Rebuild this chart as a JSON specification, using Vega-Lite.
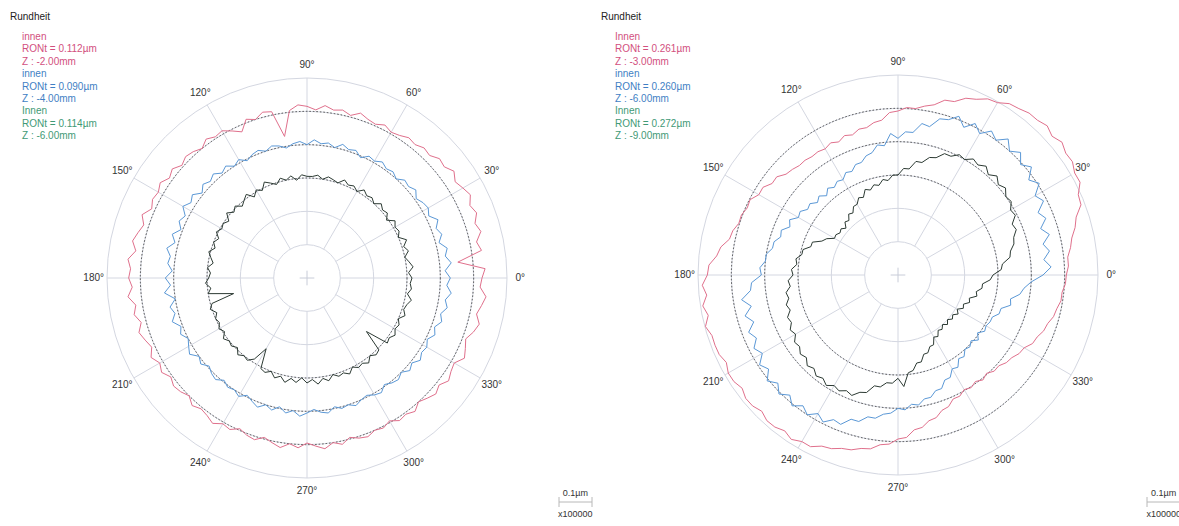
{
"$schema":"https://vega.github.io/schema/vega-lite/v6.json",
"padding":0,
"spacing":0,
"background":"white",
"config":{"view":{"stroke":null},"axis":{"disable":true},"legend":{"disable":true},"text":{"font":"Liberation Sans","fontSize":10}},
"resolve":{"scale":{"x":"independent","y":"independent"}},
"datasets":{
"rings":[{"r":1},{"r":2},{"r":3},{"r":4},{"r":5},{"r":6}],
"dots":[{"r":3},{"r":4},{"r":5}],
"spokes":[{"a":0},{"a":30},{"a":60},{"a":90},{"a":120},{"a":150},{"a":180},{"a":210},{"a":240},{"a":270},{"a":300},{"a":330}],
"cross":[{"x":-0.22,"y":0,"x2":0.22,"y2":0},{"x":0,"y":-0.22,"x2":0,"y2":0.22}],
"notes":[
{"p":"L","k":"leg","c":"K","x":-8.91,"y":7.83,"t":"Rundheit"},
{"p":"L","k":"leg","c":"T1","x":-8.55,"y":7.23,"t":"innen"},
{"p":"L","k":"leg","c":"T1","x":-8.55,"y":6.86,"t":"RONt = 0.112µm"},
{"p":"L","k":"leg","c":"T1","x":-8.55,"y":6.48,"t":"Z : -2.00mm"},
{"p":"L","k":"leg","c":"T2","x":-8.55,"y":6.12,"t":"innen"},
{"p":"L","k":"leg","c":"T2","x":-8.55,"y":5.73,"t":"RONt = 0.090µm"},
{"p":"L","k":"leg","c":"T2","x":-8.55,"y":5.37,"t":"Z : -4.00mm"},
{"p":"L","k":"leg","c":"T3","x":-8.55,"y":5.01,"t":"Innen"},
{"p":"L","k":"leg","c":"T3","x":-8.55,"y":4.62,"t":"RONt = 0.114µm"},
{"p":"L","k":"leg","c":"T3","x":-8.55,"y":4.26,"t":"Z : -6.00mm"},
{"p":"L","k":"bar","c":"K","x":8.05,"y":-6.45,"t":"0.1µm"},
{"p":"L","k":"bar","c":"K","x":8.05,"y":-7.08,"t":"x100000"},
{"p":"R","k":"leg","c":"K","x":-8.91,"y":7.74,"t":"Rundheit"},
{"p":"R","k":"leg","c":"T1","x":-8.49,"y":7.14,"t":"Innen"},
{"p":"R","k":"leg","c":"T1","x":-8.49,"y":6.77,"t":"RONt = 0.261µm"},
{"p":"R","k":"leg","c":"T1","x":-8.49,"y":6.39,"t":"Z : -3.00mm"},
{"p":"R","k":"leg","c":"T2","x":-8.49,"y":6.03,"t":"innen"},
{"p":"R","k":"leg","c":"T2","x":-8.49,"y":5.64,"t":"RONt = 0.260µm"},
{"p":"R","k":"leg","c":"T2","x":-8.49,"y":5.28,"t":"Z : -6.00mm"},
{"p":"R","k":"leg","c":"T3","x":-8.49,"y":4.92,"t":"Innen"},
{"p":"R","k":"leg","c":"T3","x":-8.49,"y":4.53,"t":"RONt = 0.272µm"},
{"p":"R","k":"leg","c":"T3","x":-8.49,"y":4.17,"t":"Z : -9.00mm"},
{"p":"R","k":"bar","c":"K","x":7.97,"y":-6.54,"t":"0.1µm"},
{"p":"R","k":"bar","c":"K","x":7.97,"y":-7.17,"t":"x100000"}
],
"bars":[
{"p":"L","x":7.56,"y":-6.72,"x2":8.55,"y2":-6.72},
{"p":"L","x":7.56,"y":-6.57,"x2":7.56,"y2":-6.87},
{"p":"L","x":8.55,"y":-6.57,"x2":8.55,"y2":-6.87},
{"p":"R","x":7.47,"y":-6.81,"x2":8.46,"y2":-6.81},
{"p":"R","x":7.47,"y":-6.66,"x2":7.47,"y2":-6.96},
{"p":"R","x":8.46,"y":-6.66,"x2":8.46,"y2":-6.96}
],
"prof":[
{"s":"L1","a":0,"r":5.25},{"s":"L1","a":3,"r":5.35},{"s":"L1","a":6,"r":4.55},{"s":"L1","a":9,"r":5.3},{"s":"L1","a":12,"r":5.2},{"s":"L1","a":15,"r":5.4},{"s":"L1","a":18,"r":5.3},{"s":"L1","a":21,"r":5.45},{"s":"L1","a":24,"r":5.35},{"s":"L1","a":27,"r":5.5},{"s":"L1","a":30,"r":5.4},{"s":"L1","a":33,"r":5.3},{"s":"L1","a":36,"r":5.45},{"s":"L1","a":39,"r":5.3},{"s":"L1","a":42,"r":5.35},{"s":"L1","a":45,"r":5.2},{"s":"L1","a":48,"r":5.25},{"s":"L1","a":51,"r":5.15},{"s":"L1","a":54,"r":5.2},{"s":"L1","a":57,"r":5.1},{"s":"L1","a":60,"r":5.05},{"s":"L1","a":63,"r":5.15},{"s":"L1","a":66,"r":5.05},{"s":"L1","a":69,"r":5.1},{"s":"L1","a":72,"r":5.2},{"s":"L1","a":75,"r":5.05},{"s":"L1","a":78,"r":5.15},{"s":"L1","a":81,"r":5.1},{"s":"L1","a":84,"r":5.2},{"s":"L1","a":87,"r":5.05},{"s":"L1","a":90,"r":5.15},{"s":"L1","a":93,"r":5.2},{"s":"L1","a":96,"r":5.05},{"s":"L1","a":99,"r":4.3},{"s":"L1","a":102,"r":5.1},{"s":"L1","a":105,"r":5.15},{"s":"L1","a":108,"r":5.0},{"s":"L1","a":111,"r":5.1},{"s":"L1","a":114,"r":4.8},{"s":"L1","a":117,"r":4.95},{"s":"L1","a":120,"r":5.1},{"s":"L1","a":123,"r":5.05},{"s":"L1","a":126,"r":5.15},{"s":"L1","a":129,"r":5.0},{"s":"L1","a":132,"r":5.1},{"s":"L1","a":135,"r":5.15},{"s":"L1","a":138,"r":5.05},{"s":"L1","a":141,"r":5.2},{"s":"L1","a":144,"r":5.1},{"s":"L1","a":147,"r":5.25},{"s":"L1","a":150,"r":5.15},{"s":"L1","a":153,"r":5.2},{"s":"L1","a":156,"r":5.1},{"s":"L1","a":159,"r":5.3},{"s":"L1","a":162,"r":5.15},{"s":"L1","a":165,"r":5.25},{"s":"L1","a":168,"r":5.35},{"s":"L1","a":171,"r":5.2},{"s":"L1","a":174,"r":5.4},{"s":"L1","a":177,"r":5.3},{"s":"L1","a":180,"r":5.35},{"s":"L1","a":183,"r":5.25},{"s":"L1","a":186,"r":5.4},{"s":"L1","a":189,"r":5.2},{"s":"L1","a":192,"r":5.3},{"s":"L1","a":195,"r":5.15},{"s":"L1","a":198,"r":5.3},{"s":"L1","a":201,"r":5.2},{"s":"L1","a":204,"r":5.1},{"s":"L1","a":207,"r":5.25},{"s":"L1","a":210,"r":5.1},{"s":"L1","a":213,"r":5.2},{"s":"L1","a":216,"r":5.05},{"s":"L1","a":219,"r":5.15},{"s":"L1","a":222,"r":5.1},{"s":"L1","a":225,"r":5.0},{"s":"L1","a":228,"r":5.15},{"s":"L1","a":231,"r":5.05},{"s":"L1","a":234,"r":5.1},{"s":"L1","a":237,"r":5.2},{"s":"L1","a":240,"r":5.05},{"s":"L1","a":243,"r":5.1},{"s":"L1","a":246,"r":4.95},{"s":"L1","a":249,"r":5.05},{"s":"L1","a":252,"r":5.1},{"s":"L1","a":255,"r":4.95},{"s":"L1","a":258,"r":5.05},{"s":"L1","a":261,"r":5.15},{"s":"L1","a":264,"r":5.0},{"s":"L1","a":267,"r":5.1},{"s":"L1","a":270,"r":4.95},{"s":"L1","a":273,"r":5.05},{"s":"L1","a":276,"r":5.15},{"s":"L1","a":279,"r":5.0},{"s":"L1","a":282,"r":5.1},{"s":"L1","a":285,"r":4.95},{"s":"L1","a":288,"r":5.05},{"s":"L1","a":291,"r":5.1},{"s":"L1","a":294,"r":5.0},{"s":"L1","a":297,"r":5.05},{"s":"L1","a":300,"r":4.95},{"s":"L1","a":303,"r":5.1},{"s":"L1","a":306,"r":5.05},{"s":"L1","a":309,"r":5.15},{"s":"L1","a":312,"r":5.0},{"s":"L1","a":315,"r":5.1},{"s":"L1","a":318,"r":5.2},{"s":"L1","a":321,"r":5.1},{"s":"L1","a":324,"r":5.25},{"s":"L1","a":327,"r":5.15},{"s":"L1","a":330,"r":5.1},{"s":"L1","a":333,"r":5.3},{"s":"L1","a":336,"r":5.2},{"s":"L1","a":339,"r":5.1},{"s":"L1","a":342,"r":5.25},{"s":"L1","a":345,"r":5.35},{"s":"L1","a":348,"r":5.2},{"s":"L1","a":351,"r":5.3},{"s":"L1","a":354,"r":5.4},{"s":"L1","a":357,"r":5.2},{"s":"L1","a":360,"r":5.25},
{"s":"L2","a":0,"r":4.3},{"s":"L2","a":3,"r":4.15},{"s":"L2","a":6,"r":4.35},{"s":"L2","a":9,"r":4.2},{"s":"L2","a":12,"r":4.3},{"s":"L2","a":15,"r":4.1},{"s":"L2","a":18,"r":4.25},{"s":"L2","a":21,"r":4.15},{"s":"L2","a":24,"r":4.3},{"s":"L2","a":27,"r":4.1},{"s":"L2","a":30,"r":4.2},{"s":"L2","a":33,"r":4.15},{"s":"L2","a":36,"r":4.05},{"s":"L2","a":39,"r":4.2},{"s":"L2","a":42,"r":4.1},{"s":"L2","a":45,"r":4.15},{"s":"L2","a":48,"r":4.0},{"s":"L2","a":51,"r":4.1},{"s":"L2","a":54,"r":4.05},{"s":"L2","a":57,"r":4.15},{"s":"L2","a":60,"r":4.05},{"s":"L2","a":63,"r":4.1},{"s":"L2","a":66,"r":3.95},{"s":"L2","a":69,"r":4.1},{"s":"L2","a":72,"r":4.05},{"s":"L2","a":75,"r":4.15},{"s":"L2","a":78,"r":4.0},{"s":"L2","a":81,"r":4.1},{"s":"L2","a":84,"r":4.05},{"s":"L2","a":87,"r":4.15},{"s":"L2","a":90,"r":4.0},{"s":"L2","a":93,"r":4.1},{"s":"L2","a":96,"r":4.05},{"s":"L2","a":99,"r":3.95},{"s":"L2","a":102,"r":4.05},{"s":"L2","a":105,"r":4.1},{"s":"L2","a":108,"r":4.0},{"s":"L2","a":111,"r":4.1},{"s":"L2","a":114,"r":4.05},{"s":"L2","a":117,"r":3.95},{"s":"L2","a":120,"r":4.1},{"s":"L2","a":123,"r":4.0},{"s":"L2","a":126,"r":4.15},{"s":"L2","a":129,"r":4.05},{"s":"L2","a":132,"r":4.2},{"s":"L2","a":135,"r":4.1},{"s":"L2","a":138,"r":4.2},{"s":"L2","a":141,"r":4.05},{"s":"L2","a":144,"r":4.25},{"s":"L2","a":147,"r":4.15},{"s":"L2","a":150,"r":4.3},{"s":"L2","a":153,"r":4.1},{"s":"L2","a":156,"r":4.2},{"s":"L2","a":159,"r":4.05},{"s":"L2","a":162,"r":4.25},{"s":"L2","a":165,"r":4.1},{"s":"L2","a":168,"r":4.3},{"s":"L2","a":171,"r":4.15},{"s":"L2","a":174,"r":4.2},{"s":"L2","a":177,"r":4.05},{"s":"L2","a":180,"r":4.25},{"s":"L2","a":183,"r":4.1},{"s":"L2","a":186,"r":4.3},{"s":"L2","a":189,"r":4.0},{"s":"L2","a":192,"r":4.2},{"s":"L2","a":195,"r":4.1},{"s":"L2","a":198,"r":4.25},{"s":"L2","a":201,"r":4.05},{"s":"L2","a":204,"r":4.15},{"s":"L2","a":207,"r":4.0},{"s":"L2","a":210,"r":4.1},{"s":"L2","a":213,"r":4.2},{"s":"L2","a":216,"r":4.0},{"s":"L2","a":219,"r":4.1},{"s":"L2","a":222,"r":3.95},{"s":"L2","a":225,"r":4.05},{"s":"L2","a":228,"r":4.1},{"s":"L2","a":231,"r":3.95},{"s":"L2","a":234,"r":4.05},{"s":"L2","a":237,"r":4.0},{"s":"L2","a":240,"r":4.1},{"s":"L2","a":243,"r":3.95},{"s":"L2","a":246,"r":4.05},{"s":"L2","a":249,"r":4.15},{"s":"L2","a":252,"r":4.0},{"s":"L2","a":255,"r":4.1},{"s":"L2","a":258,"r":3.95},{"s":"L2","a":261,"r":4.1},{"s":"L2","a":264,"r":4.0},{"s":"L2","a":267,"r":4.15},{"s":"L2","a":270,"r":4.05},{"s":"L2","a":273,"r":3.95},{"s":"L2","a":276,"r":4.05},{"s":"L2","a":279,"r":4.1},{"s":"L2","a":282,"r":3.95},{"s":"L2","a":285,"r":4.05},{"s":"L2","a":288,"r":4.0},{"s":"L2","a":291,"r":4.1},{"s":"L2","a":294,"r":4.0},{"s":"L2","a":297,"r":3.95},{"s":"L2","a":300,"r":4.05},{"s":"L2","a":303,"r":4.1},{"s":"L2","a":306,"r":3.95},{"s":"L2","a":309,"r":4.05},{"s":"L2","a":312,"r":4.1},{"s":"L2","a":315,"r":4.0},{"s":"L2","a":318,"r":4.15},{"s":"L2","a":321,"r":4.05},{"s":"L2","a":324,"r":4.2},{"s":"L2","a":327,"r":4.1},{"s":"L2","a":330,"r":4.15},{"s":"L2","a":333,"r":4.05},{"s":"L2","a":336,"r":4.2},{"s":"L2","a":339,"r":4.1},{"s":"L2","a":342,"r":4.25},{"s":"L2","a":345,"r":4.15},{"s":"L2","a":348,"r":4.3},{"s":"L2","a":351,"r":4.2},{"s":"L2","a":354,"r":4.35},{"s":"L2","a":357,"r":4.2},{"s":"L2","a":360,"r":4.3},
{"s":"L3","a":0,"r":3.15},{"s":"L3","a":3,"r":3.05},{"s":"L3","a":6,"r":3.2},{"s":"L3","a":9,"r":3.1},{"s":"L3","a":12,"r":3.0},{"s":"L3","a":15,"r":3.15},{"s":"L3","a":18,"r":3.05},{"s":"L3","a":21,"r":3.2},{"s":"L3","a":24,"r":3.0},{"s":"L3","a":27,"r":3.1},{"s":"L3","a":30,"r":3.05},{"s":"L3","a":33,"r":3.15},{"s":"L3","a":36,"r":2.95},{"s":"L3","a":39,"r":3.1},{"s":"L3","a":42,"r":3.05},{"s":"L3","a":45,"r":3.15},{"s":"L3","a":48,"r":3.0},{"s":"L3","a":51,"r":3.1},{"s":"L3","a":54,"r":3.05},{"s":"L3","a":57,"r":3.15},{"s":"L3","a":60,"r":3.0},{"s":"L3","a":63,"r":3.1},{"s":"L3","a":66,"r":3.05},{"s":"L3","a":69,"r":3.15},{"s":"L3","a":72,"r":3.0},{"s":"L3","a":75,"r":3.05},{"s":"L3","a":78,"r":3.1},{"s":"L3","a":81,"r":3.0},{"s":"L3","a":84,"r":3.1},{"s":"L3","a":87,"r":3.05},{"s":"L3","a":90,"r":3.05},{"s":"L3","a":93,"r":3.1},{"s":"L3","a":96,"r":2.95},{"s":"L3","a":99,"r":3.1},{"s":"L3","a":102,"r":3.0},{"s":"L3","a":105,"r":3.1},{"s":"L3","a":108,"r":2.95},{"s":"L3","a":111,"r":3.05},{"s":"L3","a":114,"r":3.15},{"s":"L3","a":117,"r":2.95},{"s":"L3","a":120,"r":3.05},{"s":"L3","a":123,"r":2.9},{"s":"L3","a":126,"r":3.1},{"s":"L3","a":129,"r":3.0},{"s":"L3","a":132,"r":2.9},{"s":"L3","a":135,"r":3.05},{"s":"L3","a":138,"r":2.95},{"s":"L3","a":141,"r":3.1},{"s":"L3","a":144,"r":2.9},{"s":"L3","a":147,"r":3.0},{"s":"L3","a":150,"r":2.95},{"s":"L3","a":153,"r":3.05},{"s":"L3","a":156,"r":2.9},{"s":"L3","a":159,"r":3.0},{"s":"L3","a":162,"r":2.9},{"s":"L3","a":165,"r":3.05},{"s":"L3","a":168,"r":2.95},{"s":"L3","a":171,"r":2.85},{"s":"L3","a":174,"r":3.0},{"s":"L3","a":177,"r":2.9},{"s":"L3","a":180,"r":2.95},{"s":"L3","a":183,"r":3.05},{"s":"L3","a":186,"r":2.9},{"s":"L3","a":189,"r":3.0},{"s":"L3","a":192,"r":2.25},{"s":"L3","a":195,"r":2.95},{"s":"L3","a":198,"r":3.05},{"s":"L3","a":201,"r":2.9},{"s":"L3","a":204,"r":3.0},{"s":"L3","a":207,"r":2.95},{"s":"L3","a":210,"r":3.05},{"s":"L3","a":213,"r":2.95},{"s":"L3","a":216,"r":3.1},{"s":"L3","a":219,"r":3.0},{"s":"L3","a":222,"r":3.05},{"s":"L3","a":225,"r":2.95},{"s":"L3","a":228,"r":3.1},{"s":"L3","a":231,"r":3.0},{"s":"L3","a":234,"r":3.05},{"s":"L3","a":237,"r":2.9},{"s":"L3","a":240,"r":2.45},{"s":"L3","a":243,"r":3.05},{"s":"L3","a":246,"r":3.1},{"s":"L3","a":249,"r":3.0},{"s":"L3","a":252,"r":3.15},{"s":"L3","a":255,"r":3.05},{"s":"L3","a":258,"r":3.2},{"s":"L3","a":261,"r":3.05},{"s":"L3","a":264,"r":3.15},{"s":"L3","a":267,"r":3.0},{"s":"L3","a":270,"r":3.15},{"s":"L3","a":273,"r":3.05},{"s":"L3","a":276,"r":3.2},{"s":"L3","a":279,"r":3.05},{"s":"L3","a":282,"r":3.15},{"s":"L3","a":285,"r":3.0},{"s":"L3","a":288,"r":3.1},{"s":"L3","a":291,"r":3.05},{"s":"L3","a":294,"r":3.15},{"s":"L3","a":297,"r":3.0},{"s":"L3","a":300,"r":3.1},{"s":"L3","a":303,"r":3.05},{"s":"L3","a":306,"r":3.15},{"s":"L3","a":309,"r":3.0},{"s":"L3","a":312,"r":3.1},{"s":"L3","a":315,"r":3.05},{"s":"L3","a":318,"r":2.4},{"s":"L3","a":321,"r":3.1},{"s":"L3","a":324,"r":3.05},{"s":"L3","a":327,"r":3.15},{"s":"L3","a":330,"r":3.05},{"s":"L3","a":333,"r":3.1},{"s":"L3","a":336,"r":3.0},{"s":"L3","a":339,"r":3.15},{"s":"L3","a":342,"r":3.05},{"s":"L3","a":345,"r":3.1},{"s":"L3","a":348,"r":3.2},{"s":"L3","a":351,"r":3.05},{"s":"L3","a":354,"r":3.15},{"s":"L3","a":357,"r":3.1},{"s":"L3","a":360,"r":3.15},
{"s":"R1","a":0,"r":5.05},{"s":"R1","a":3,"r":5.12},{"s":"R1","a":6,"r":5.12},{"s":"R1","a":9,"r":5.24},{"s":"R1","a":12,"r":5.33},{"s":"R1","a":15,"r":5.5},{"s":"R1","a":18,"r":5.62},{"s":"R1","a":21,"r":5.88},{"s":"R1","a":24,"r":5.92},{"s":"R1","a":27,"r":6.13},{"s":"R1","a":30,"r":6.12},{"s":"R1","a":33,"r":6.24},{"s":"R1","a":36,"r":6.22},{"s":"R1","a":39,"r":6.33},{"s":"R1","a":42,"r":6.22},{"s":"R1","a":45,"r":6.33},{"s":"R1","a":48,"r":6.25},{"s":"R1","a":51,"r":6.25},{"s":"R1","a":54,"r":6.17},{"s":"R1","a":57,"r":6.13},{"s":"R1","a":60,"r":5.97},{"s":"R1","a":63,"r":5.93},{"s":"R1","a":66,"r":5.77},{"s":"R1","a":69,"r":5.68},{"s":"R1","a":72,"r":5.47},{"s":"R1","a":75,"r":5.43},{"s":"R1","a":78,"r":5.22},{"s":"R1","a":81,"r":5.13},{"s":"R1","a":84,"r":5.02},{"s":"R1","a":87,"r":5.03},{"s":"R1","a":90,"r":4.92},{"s":"R1","a":93,"r":4.88},{"s":"R1","a":96,"r":4.67},{"s":"R1","a":99,"r":4.63},{"s":"R1","a":102,"r":4.52},{"s":"R1","a":105,"r":4.53},{"s":"R1","a":108,"r":4.42},{"s":"R1","a":111,"r":4.48},{"s":"R1","a":114,"r":4.37},{"s":"R1","a":117,"r":4.45},{"s":"R1","a":120,"r":4.37},{"s":"R1","a":123,"r":4.41},{"s":"R1","a":126,"r":4.39},{"s":"R1","a":129,"r":4.43},{"s":"R1","a":132,"r":4.42},{"s":"R1","a":135,"r":4.48},{"s":"R1","a":138,"r":4.52},{"s":"R1","a":141,"r":4.68},{"s":"R1","a":144,"r":4.67},{"s":"R1","a":147,"r":4.83},{"s":"R1","a":150,"r":4.82},{"s":"R1","a":153,"r":4.98},{"s":"R1","a":156,"r":4.95},{"s":"R1","a":159,"r":5.03},{"s":"R1","a":162,"r":5.02},{"s":"R1","a":165,"r":5.13},{"s":"R1","a":168,"r":5.17},{"s":"R1","a":171,"r":5.38},{"s":"R1","a":174,"r":5.47},{"s":"R1","a":177,"r":5.68},{"s":"R1","a":180,"r":5.72},{"s":"R1","a":183,"r":5.88},{"s":"R1","a":186,"r":5.77},{"s":"R1","a":189,"r":5.93},{"s":"R1","a":192,"r":5.82},{"s":"R1","a":195,"r":5.98},{"s":"R1","a":198,"r":5.87},{"s":"R1","a":201,"r":5.88},{"s":"R1","a":204,"r":5.87},{"s":"R1","a":207,"r":5.78},{"s":"R1","a":210,"r":5.88},{"s":"R1","a":213,"r":5.87},{"s":"R1","a":216,"r":5.78},{"s":"R1","a":219,"r":5.88},{"s":"R1","a":222,"r":5.87},{"s":"R1","a":225,"r":5.78},{"s":"R1","a":228,"r":5.88},{"s":"R1","a":231,"r":5.87},{"s":"R1","a":234,"r":5.78},{"s":"R1","a":237,"r":5.88},{"s":"R1","a":240,"r":5.77},{"s":"R1","a":243,"r":5.78},{"s":"R1","a":246,"r":5.62},{"s":"R1","a":249,"r":5.58},{"s":"R1","a":252,"r":5.47},{"s":"R1","a":255,"r":5.43},{"s":"R1","a":258,"r":5.32},{"s":"R1","a":261,"r":5.28},{"s":"R1","a":264,"r":5.12},{"s":"R1","a":267,"r":5.08},{"s":"R1","a":270,"r":4.92},{"s":"R1","a":273,"r":4.88},{"s":"R1","a":276,"r":4.67},{"s":"R1","a":279,"r":4.63},{"s":"R1","a":282,"r":4.47},{"s":"R1","a":285,"r":4.43},{"s":"R1","a":288,"r":4.27},{"s":"R1","a":291,"r":4.23},{"s":"R1","a":294,"r":4.07},{"s":"R1","a":297,"r":4.08},{"s":"R1","a":300,"r":3.97},{"s":"R1","a":303,"r":4.03},{"s":"R1","a":306,"r":3.95},{"s":"R1","a":309,"r":4.05},{"s":"R1","a":312,"r":3.97},{"s":"R1","a":315,"r":4.08},{"s":"R1","a":318,"r":4.07},{"s":"R1","a":321,"r":4.18},{"s":"R1","a":324,"r":4.22},{"s":"R1","a":327,"r":4.33},{"s":"R1","a":330,"r":4.37},{"s":"R1","a":333,"r":4.53},{"s":"R1","a":336,"r":4.57},{"s":"R1","a":339,"r":4.68},{"s":"R1","a":342,"r":4.72},{"s":"R1","a":345,"r":4.83},{"s":"R1","a":348,"r":4.87},{"s":"R1","a":351,"r":4.95},{"s":"R1","a":354,"r":4.95},{"s":"R1","a":357,"r":5.03},{"s":"R1","a":360,"r":5.05},
{"s":"R2","a":0,"r":4.35},{"s":"R2","a":3,"r":4.6},{"s":"R2","a":6,"r":4.4},{"s":"R2","a":9,"r":4.6},{"s":"R2","a":12,"r":4.45},{"s":"R2","a":15,"r":4.7},{"s":"R2","a":18,"r":4.5},{"s":"R2","a":21,"r":4.75},{"s":"R2","a":24,"r":4.6},{"s":"R2","a":27,"r":4.9},{"s":"R2","a":30,"r":4.75},{"s":"R2","a":33,"r":5.05},{"s":"R2","a":36,"r":4.85},{"s":"R2","a":39,"r":5.15},{"s":"R2","a":42,"r":4.95},{"s":"R2","a":45,"r":5.2},{"s":"R2","a":48,"r":5.0},{"s":"R2","a":51,"r":5.25},{"s":"R2","a":54,"r":5.0},{"s":"R2","a":57,"r":5.15},{"s":"R2","a":60,"r":4.9},{"s":"R2","a":63,"r":5.1},{"s":"R2","a":66,"r":4.85},{"s":"R2","a":69,"r":5.1},{"s":"R2","a":72,"r":4.9},{"s":"R2","a":75,"r":4.85},{"s":"R2","a":78,"r":4.55},{"s":"R2","a":81,"r":4.6},{"s":"R2","a":84,"r":4.3},{"s":"R2","a":87,"r":4.3},{"s":"R2","a":90,"r":4.1},{"s":"R2","a":93,"r":4.25},{"s":"R2","a":96,"r":3.9},{"s":"R2","a":99,"r":3.95},{"s":"R2","a":102,"r":3.75},{"s":"R2","a":105,"r":3.7},{"s":"R2","a":108,"r":3.55},{"s":"R2","a":111,"r":3.55},{"s":"R2","a":114,"r":3.4},{"s":"R2","a":117,"r":3.45},{"s":"R2","a":120,"r":3.3},{"s":"R2","a":123,"r":3.35},{"s":"R2","a":126,"r":3.25},{"s":"R2","a":129,"r":3.35},{"s":"R2","a":132,"r":3.2},{"s":"R2","a":135,"r":3.35},{"s":"R2","a":138,"r":3.25},{"s":"R2","a":141,"r":3.4},{"s":"R2","a":144,"r":3.35},{"s":"R2","a":147,"r":3.5},{"s":"R2","a":150,"r":3.45},{"s":"R2","a":153,"r":3.65},{"s":"R2","a":156,"r":3.55},{"s":"R2","a":159,"r":3.75},{"s":"R2","a":162,"r":3.7},{"s":"R2","a":165,"r":3.85},{"s":"R2","a":168,"r":3.85},{"s":"R2","a":171,"r":4.0},{"s":"R2","a":174,"r":4.0},{"s":"R2","a":177,"r":4.15},{"s":"R2","a":180,"r":4.1},{"s":"R2","a":183,"r":4.4},{"s":"R2","a":186,"r":4.45},{"s":"R2","a":189,"r":4.75},{"s":"R2","a":192,"r":4.5},{"s":"R2","a":195,"r":4.75},{"s":"R2","a":198,"r":4.55},{"s":"R2","a":201,"r":4.8},{"s":"R2","a":204,"r":4.65},{"s":"R2","a":207,"r":4.85},{"s":"R2","a":210,"r":4.7},{"s":"R2","a":213,"r":4.95},{"s":"R2","a":216,"r":4.8},{"s":"R2","a":219,"r":5.05},{"s":"R2","a":222,"r":4.85},{"s":"R2","a":225,"r":5.05},{"s":"R2","a":228,"r":4.85},{"s":"R2","a":231,"r":5.05},{"s":"R2","a":234,"r":4.85},{"s":"R2","a":237,"r":5.0},{"s":"R2","a":240,"r":4.8},{"s":"R2","a":243,"r":4.95},{"s":"R2","a":246,"r":4.75},{"s":"R2","a":249,"r":4.8},{"s":"R2","a":252,"r":4.55},{"s":"R2","a":255,"r":4.55},{"s":"R2","a":258,"r":4.35},{"s":"R2","a":261,"r":4.35},{"s":"R2","a":264,"r":4.2},{"s":"R2","a":267,"r":4.15},{"s":"R2","a":270,"r":4.0},{"s":"R2","a":273,"r":4.05},{"s":"R2","a":276,"r":3.9},{"s":"R2","a":279,"r":3.95},{"s":"R2","a":282,"r":3.8},{"s":"R2","a":285,"r":3.8},{"s":"R2","a":288,"r":3.65},{"s":"R2","a":291,"r":3.65},{"s":"R2","a":294,"r":3.45},{"s":"R2","a":297,"r":3.45},{"s":"R2","a":300,"r":3.25},{"s":"R2","a":303,"r":3.3},{"s":"R2","a":306,"r":3.1},{"s":"R2","a":309,"r":3.15},{"s":"R2","a":312,"r":3.0},{"s":"R2","a":315,"r":3.05},{"s":"R2","a":318,"r":2.95},{"s":"R2","a":321,"r":3.1},{"s":"R2","a":324,"r":2.95},{"s":"R2","a":327,"r":3.1},{"s":"R2","a":330,"r":3.05},{"s":"R2","a":333,"r":3.1},{"s":"R2","a":336,"r":3.1},{"s":"R2","a":339,"r":3.25},{"s":"R2","a":342,"r":3.25},{"s":"R2","a":345,"r":3.5},{"s":"R2","a":348,"r":3.45},{"s":"R2","a":351,"r":3.7},{"s":"R2","a":354,"r":3.8},{"s":"R2","a":357,"r":4.0},{"s":"R2","a":360,"r":4.35},
{"s":"R3","a":0,"r":2.85},{"s":"R3","a":3,"r":3.1},{"s":"R3","a":6,"r":3.15},{"s":"R3","a":9,"r":3.4},{"s":"R3","a":12,"r":3.45},{"s":"R3","a":15,"r":3.6},{"s":"R3","a":18,"r":3.65},{"s":"R3","a":21,"r":3.8},{"s":"R3","a":24,"r":3.75},{"s":"R3","a":27,"r":3.95},{"s":"R3","a":30,"r":3.9},{"s":"R3","a":33,"r":4.05},{"s":"R3","a":36,"r":4.0},{"s":"R3","a":39,"r":4.15},{"s":"R3","a":42,"r":4.05},{"s":"R3","a":45,"r":4.2},{"s":"R3","a":48,"r":4.05},{"s":"R3","a":51,"r":4.2},{"s":"R3","a":54,"r":4.08},{"s":"R3","a":57,"r":4.15},{"s":"R3","a":60,"r":4.0},{"s":"R3","a":63,"r":4.05},{"s":"R3","a":66,"r":3.9},{"s":"R3","a":69,"r":3.9},{"s":"R3","a":72,"r":3.7},{"s":"R3","a":75,"r":3.65},{"s":"R3","a":78,"r":3.45},{"s":"R3","a":81,"r":3.45},{"s":"R3","a":84,"r":3.2},{"s":"R3","a":87,"r":3.2},{"s":"R3","a":90,"r":3.0},{"s":"R3","a":93,"r":3.0},{"s":"R3","a":96,"r":2.85},{"s":"R3","a":99,"r":2.9},{"s":"R3","a":102,"r":2.75},{"s":"R3","a":105,"r":2.8},{"s":"R3","a":108,"r":2.68},{"s":"R3","a":111,"r":2.75},{"s":"R3","a":114,"r":2.55},{"s":"R3","a":117,"r":2.6},{"s":"R3","a":120,"r":2.45},{"s":"R3","a":123,"r":2.45},{"s":"R3","a":126,"r":2.3},{"s":"R3","a":129,"r":2.35},{"s":"R3","a":132,"r":2.2},{"s":"R3","a":135,"r":2.25},{"s":"R3","a":138,"r":2.1},{"s":"R3","a":141,"r":2.2},{"s":"R3","a":144,"r":2.15},{"s":"R3","a":147,"r":2.22},{"s":"R3","a":150,"r":2.2},{"s":"R3","a":153,"r":2.4},{"s":"R3","a":156,"r":2.5},{"s":"R3","a":159,"r":2.75},{"s":"R3","a":162,"r":2.75},{"s":"R3","a":165,"r":2.95},{"s":"R3","a":168,"r":2.95},{"s":"R3","a":171,"r":3.1},{"s":"R3","a":174,"r":3.05},{"s":"R3","a":177,"r":3.2},{"s":"R3","a":180,"r":3.15},{"s":"R3","a":183,"r":3.3},{"s":"R3","a":186,"r":3.25},{"s":"R3","a":189,"r":3.4},{"s":"R3","a":192,"r":3.35},{"s":"R3","a":195,"r":3.47},{"s":"R3","a":198,"r":3.4},{"s":"R3","a":201,"r":3.55},{"s":"R3","a":204,"r":3.5},{"s":"R3","a":207,"r":3.63},{"s":"R3","a":210,"r":3.55},{"s":"R3","a":213,"r":3.7},{"s":"R3","a":216,"r":3.65},{"s":"R3","a":219,"r":3.77},{"s":"R3","a":222,"r":3.7},{"s":"R3","a":225,"r":3.85},{"s":"R3","a":228,"r":3.77},{"s":"R3","a":231,"r":3.9},{"s":"R3","a":234,"r":3.83},{"s":"R3","a":237,"r":3.95},{"s":"R3","a":240,"r":3.83},{"s":"R3","a":243,"r":3.9},{"s":"R3","a":246,"r":3.8},{"s":"R3","a":249,"r":3.87},{"s":"R3","a":252,"r":3.7},{"s":"R3","a":255,"r":3.65},{"s":"R3","a":258,"r":3.4},{"s":"R3","a":261,"r":3.4},{"s":"R3","a":264,"r":3.25},{"s":"R3","a":267,"r":3.25},{"s":"R3","a":270,"r":3.1},{"s":"R3","a":273,"r":3.35},{"s":"R3","a":276,"r":2.95},{"s":"R3","a":279,"r":2.9},{"s":"R3","a":282,"r":2.7},{"s":"R3","a":285,"r":2.7},{"s":"R3","a":288,"r":2.5},{"s":"R3","a":291,"r":2.5},{"s":"R3","a":294,"r":2.35},{"s":"R3","a":297,"r":2.35},{"s":"R3","a":300,"r":2.15},{"s":"R3","a":303,"r":2.2},{"s":"R3","a":306,"r":2.05},{"s":"R3","a":309,"r":2.1},{"s":"R3","a":312,"r":2.0},{"s":"R3","a":315,"r":2.1},{"s":"R3","a":318,"r":2.0},{"s":"R3","a":321,"r":2.1},{"s":"R3","a":324,"r":2.03},{"s":"R3","a":327,"r":2.15},{"s":"R3","a":330,"r":2.05},{"s":"R3","a":333,"r":2.2},{"s":"R3","a":336,"r":2.15},{"s":"R3","a":339,"r":2.3},{"s":"R3","a":342,"r":2.25},{"s":"R3","a":345,"r":2.45},{"s":"R3","a":348,"r":2.4},{"s":"R3","a":351,"r":2.55},{"s":"R3","a":354,"r":2.55},{"s":"R3","a":357,"r":2.77},{"s":"R3","a":360,"r":2.85}
]
},
"hconcat":[
{
"width":589,"height":526,
"layer":[
{"data":{"name":"rings"},"mark":{"type":"point","shape":"circle","filled":false,"stroke":"#d4d7e1","strokeWidth":1,"opacity":1},
"encoding":{"x":{"datum":0,"type":"quantitative","scale":{"domain":[-9.21,8.46],"nice":false,"zero":false}},"y":{"datum":0,"type":"quantitative","scale":{"domain":[-7.44,8.34],"nice":false,"zero":false}},"size":{"field":"r","type":"quantitative","scale":{"type":"pow","exponent":2,"domain":[0,6],"range":[0,160000]}}}},
{"data":{"name":"spokes"},"transform":[{"calculate":"cos(datum.a*PI/180)","as":"x"},{"calculate":"sin(datum.a*PI/180)","as":"y"},{"calculate":"6*cos(datum.a*PI/180)","as":"x2"},{"calculate":"6*sin(datum.a*PI/180)","as":"y2"}],
"mark":{"type":"rule","stroke":"#d4d7e1","strokeWidth":1},
"encoding":{"x":{"field":"x","type":"quantitative","scale":{"domain":[-9.21,8.46],"nice":false,"zero":false}},"y":{"field":"y","type":"quantitative","scale":{"domain":[-7.44,8.34],"nice":false,"zero":false}},"x2":{"field":"x2"},"y2":{"field":"y2"}}},
{"data":{"name":"cross"},"mark":{"type":"rule","stroke":"#c8ccd8","strokeWidth":1},
"encoding":{"x":{"field":"x","type":"quantitative","scale":{"domain":[-9.21,8.46],"nice":false,"zero":false}},"y":{"field":"y","type":"quantitative","scale":{"domain":[-7.44,8.34],"nice":false,"zero":false}},"x2":{"field":"x2"},"y2":{"field":"y2"}}},
{"data":{"name":"dots"},"mark":{"type":"point","shape":"circle","filled":false,"stroke":"#4a4a4a","strokeWidth":1,"strokeDash":[1.5,2],"opacity":1},
"encoding":{"x":{"datum":0,"type":"quantitative","scale":{"domain":[-9.21,8.46],"nice":false,"zero":false}},"y":{"datum":0,"type":"quantitative","scale":{"domain":[-7.44,8.34],"nice":false,"zero":false}},"size":{"field":"r","type":"quantitative","scale":{"type":"pow","exponent":2,"domain":[0,6],"range":[0,160000]}}}},
{"data":{"name":"prof"},"transform":[{"filter":{"field":"s","oneOf":["L1","L2","L3"]}},{"calculate":"datum.r*cos(datum.a*PI/180)","as":"x"},{"calculate":"datum.r*sin(datum.a*PI/180)","as":"y"}],
"mark":{"type":"line","strokeWidth":1,"interpolate":"linear"},
"encoding":{"x":{"field":"x","type":"quantitative","scale":{"domain":[-9.21,8.46],"nice":false,"zero":false}},"y":{"field":"y","type":"quantitative","scale":{"domain":[-7.44,8.34],"nice":false,"zero":false}},"order":{"field":"a","type":"quantitative"},
"color":{"field":"s","type":"nominal","scale":{"domain":["L1","L2","L3","R1","R2","R3","T1","T2","T3","K"],"range":["#e0708c","#5b98d6","#2c3a33","#e0708c","#5b98d6","#2c3a33","#d2507e","#3f7fc4","#3f9a76","#222222"]}}}},
{"data":{"name":"spokes"},"transform":[{"calculate":"6.4*cos(datum.a*PI/180)","as":"x"},{"calculate":"6.4*sin(datum.a*PI/180)","as":"y"},{"calculate":"datum.a+'°'","as":"t"}],
"mark":{"type":"text","align":"center","baseline":"middle","fontSize":10,"color":"#333333"},
"encoding":{"x":{"field":"x","type":"quantitative","scale":{"domain":[-9.21,8.46],"nice":false,"zero":false}},"y":{"field":"y","type":"quantitative","scale":{"domain":[-7.44,8.34],"nice":false,"zero":false}},"text":{"field":"t"}}},
{"data":{"name":"notes"},"transform":[{"filter":"datum.p=='L' && datum.k=='leg'"}],
"mark":{"type":"text","align":"left","baseline":"middle","fontSize":10},
"encoding":{"x":{"field":"x","type":"quantitative","scale":{"domain":[-9.21,8.46],"nice":false,"zero":false}},"y":{"field":"y","type":"quantitative","scale":{"domain":[-7.44,8.34],"nice":false,"zero":false}},"text":{"field":"t"},
"color":{"field":"c","type":"nominal","scale":{"domain":["L1","L2","L3","R1","R2","R3","T1","T2","T3","K"],"range":["#e0708c","#5b98d6","#2c3a33","#e0708c","#5b98d6","#2c3a33","#d2507e","#3f7fc4","#3f9a76","#222222"]}}}},
{"data":{"name":"notes"},"transform":[{"filter":"datum.p=='L' && datum.k=='bar'"}],
"mark":{"type":"text","align":"center","baseline":"middle","fontSize":9,"color":"#333333"},
"encoding":{"x":{"field":"x","type":"quantitative","scale":{"domain":[-9.21,8.46],"nice":false,"zero":false}},"y":{"field":"y","type":"quantitative","scale":{"domain":[-7.44,8.34],"nice":false,"zero":false}},"text":{"field":"t"}}},
{"data":{"name":"bars"},"transform":[{"filter":"datum.p=='L'"}],"mark":{"type":"rule","stroke":"#b8b8b8","strokeWidth":1},
"encoding":{"x":{"field":"x","type":"quantitative","scale":{"domain":[-9.21,8.46],"nice":false,"zero":false}},"y":{"field":"y","type":"quantitative","scale":{"domain":[-7.44,8.34],"nice":false,"zero":false}},"x2":{"field":"x2"},"y2":{"field":"y2"}}}
]
},
{
"width":590,"height":526,
"layer":[
{"data":{"name":"rings"},"mark":{"type":"point","shape":"circle","filled":false,"stroke":"#d4d7e1","strokeWidth":1,"opacity":1},
"encoding":{"x":{"datum":0,"type":"quantitative","scale":{"domain":[-9.15,8.55],"nice":false,"zero":false}},"y":{"datum":0,"type":"quantitative","scale":{"domain":[-7.53,8.25],"nice":false,"zero":false}},"size":{"field":"r","type":"quantitative","scale":{"type":"pow","exponent":2,"domain":[0,6],"range":[0,160000]}}}},
{"data":{"name":"spokes"},"transform":[{"calculate":"cos(datum.a*PI/180)","as":"x"},{"calculate":"sin(datum.a*PI/180)","as":"y"},{"calculate":"6*cos(datum.a*PI/180)","as":"x2"},{"calculate":"6*sin(datum.a*PI/180)","as":"y2"}],
"mark":{"type":"rule","stroke":"#d4d7e1","strokeWidth":1},
"encoding":{"x":{"field":"x","type":"quantitative","scale":{"domain":[-9.15,8.55],"nice":false,"zero":false}},"y":{"field":"y","type":"quantitative","scale":{"domain":[-7.53,8.25],"nice":false,"zero":false}},"x2":{"field":"x2"},"y2":{"field":"y2"}}},
{"data":{"name":"cross"},"mark":{"type":"rule","stroke":"#c8ccd8","strokeWidth":1},
"encoding":{"x":{"field":"x","type":"quantitative","scale":{"domain":[-9.15,8.55],"nice":false,"zero":false}},"y":{"field":"y","type":"quantitative","scale":{"domain":[-7.53,8.25],"nice":false,"zero":false}},"x2":{"field":"x2"},"y2":{"field":"y2"}}},
{"data":{"name":"dots"},"mark":{"type":"point","shape":"circle","filled":false,"stroke":"#4a4a4a","strokeWidth":1,"strokeDash":[1.5,2],"opacity":1},
"encoding":{"x":{"datum":0,"type":"quantitative","scale":{"domain":[-9.15,8.55],"nice":false,"zero":false}},"y":{"datum":0,"type":"quantitative","scale":{"domain":[-7.53,8.25],"nice":false,"zero":false}},"size":{"field":"r","type":"quantitative","scale":{"type":"pow","exponent":2,"domain":[0,6],"range":[0,160000]}}}},
{"data":{"name":"prof"},"transform":[{"filter":{"field":"s","oneOf":["R1","R2","R3"]}},{"calculate":"datum.r*cos(datum.a*PI/180)","as":"x"},{"calculate":"datum.r*sin(datum.a*PI/180)","as":"y"}],
"mark":{"type":"line","strokeWidth":1,"interpolate":"linear"},
"encoding":{"x":{"field":"x","type":"quantitative","scale":{"domain":[-9.15,8.55],"nice":false,"zero":false}},"y":{"field":"y","type":"quantitative","scale":{"domain":[-7.53,8.25],"nice":false,"zero":false}},"order":{"field":"a","type":"quantitative"},
"color":{"field":"s","type":"nominal","scale":{"domain":["L1","L2","L3","R1","R2","R3","T1","T2","T3","K"],"range":["#e0708c","#5b98d6","#2c3a33","#e0708c","#5b98d6","#2c3a33","#d2507e","#3f7fc4","#3f9a76","#222222"]}}}},
{"data":{"name":"spokes"},"transform":[{"calculate":"6.4*cos(datum.a*PI/180)","as":"x"},{"calculate":"6.4*sin(datum.a*PI/180)","as":"y"},{"calculate":"datum.a+'°'","as":"t"}],
"mark":{"type":"text","align":"center","baseline":"middle","fontSize":10,"color":"#333333"},
"encoding":{"x":{"field":"x","type":"quantitative","scale":{"domain":[-9.15,8.55],"nice":false,"zero":false}},"y":{"field":"y","type":"quantitative","scale":{"domain":[-7.53,8.25],"nice":false,"zero":false}},"text":{"field":"t"}}},
{"data":{"name":"notes"},"transform":[{"filter":"datum.p=='R' && datum.k=='leg'"}],
"mark":{"type":"text","align":"left","baseline":"middle","fontSize":10},
"encoding":{"x":{"field":"x","type":"quantitative","scale":{"domain":[-9.15,8.55],"nice":false,"zero":false}},"y":{"field":"y","type":"quantitative","scale":{"domain":[-7.53,8.25],"nice":false,"zero":false}},"text":{"field":"t"},
"color":{"field":"c","type":"nominal","scale":{"domain":["L1","L2","L3","R1","R2","R3","T1","T2","T3","K"],"range":["#e0708c","#5b98d6","#2c3a33","#e0708c","#5b98d6","#2c3a33","#d2507e","#3f7fc4","#3f9a76","#222222"]}}}},
{"data":{"name":"notes"},"transform":[{"filter":"datum.p=='R' && datum.k=='bar'"}],
"mark":{"type":"text","align":"center","baseline":"middle","fontSize":9,"color":"#333333"},
"encoding":{"x":{"field":"x","type":"quantitative","scale":{"domain":[-9.15,8.55],"nice":false,"zero":false}},"y":{"field":"y","type":"quantitative","scale":{"domain":[-7.53,8.25],"nice":false,"zero":false}},"text":{"field":"t"}}},
{"data":{"name":"bars"},"transform":[{"filter":"datum.p=='R'"}],"mark":{"type":"rule","stroke":"#b8b8b8","strokeWidth":1},
"encoding":{"x":{"field":"x","type":"quantitative","scale":{"domain":[-9.15,8.55],"nice":false,"zero":false}},"y":{"field":"y","type":"quantitative","scale":{"domain":[-7.53,8.25],"nice":false,"zero":false}},"x2":{"field":"x2"},"y2":{"field":"y2"}}}
]
}
]
}
